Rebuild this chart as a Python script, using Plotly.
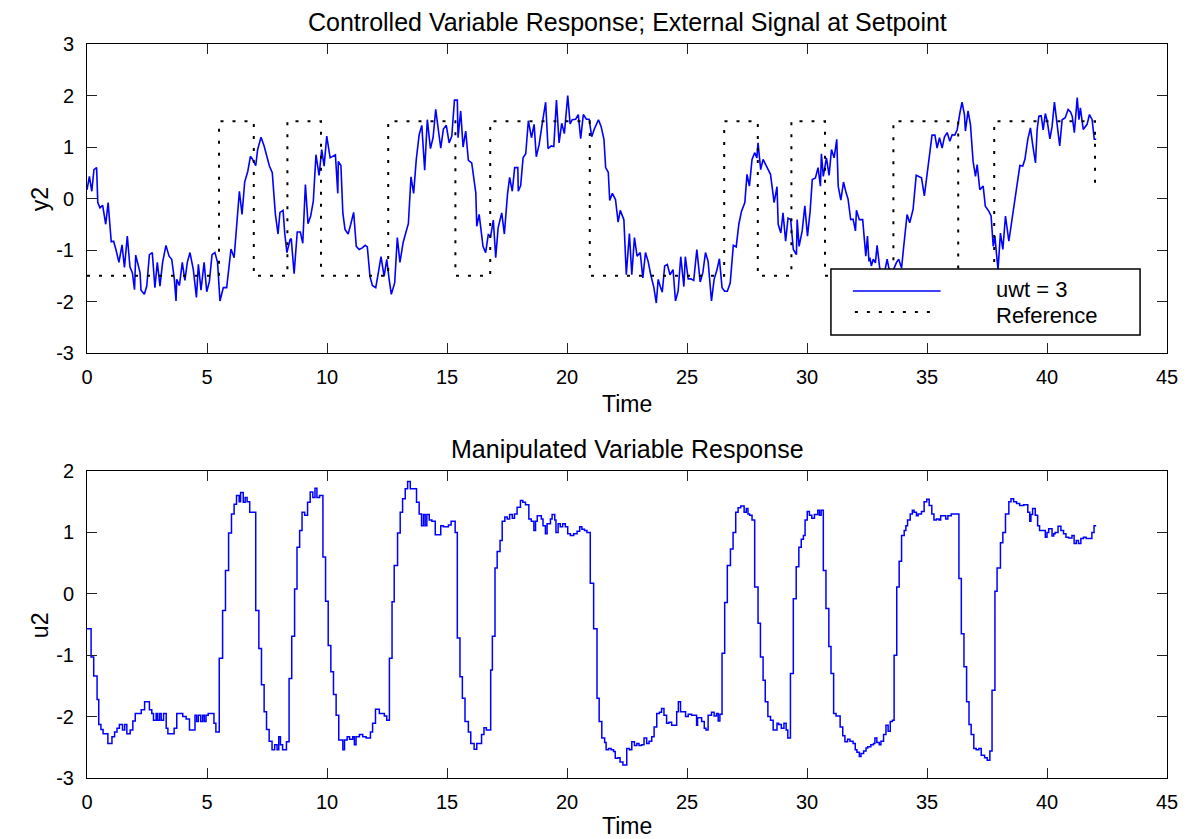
import plotly.graph_objects as go

# ---------------- data ----------------
y2_t = [0.0, 0.10, 0.20, 0.29, 0.40, 0.45, 0.54, 0.65, 0.78, 0.88, 1.01, 1.11, 1.21, 1.33, 1.46, 1.56,
        1.68, 1.79, 1.89, 1.98, 2.03, 2.21, 2.25, 2.39, 2.49, 2.60, 2.72, 2.83, 2.93, 3.04, 3.15, 3.29,
        3.42, 3.53, 3.64, 3.71, 3.74, 3.85, 3.97, 4.08, 4.18, 4.29, 4.43, 4.56, 4.64, 4.75, 4.88, 4.99,
        5.10, 5.21, 5.33, 5.44, 5.54, 5.68, 5.82, 6.00, 6.13, 6.24, 6.35, 6.46, 6.57, 6.70, 6.81, 6.90,
        7.03, 7.11, 7.25, 7.38, 7.49, 7.60, 7.72, 7.85, 7.96, 8.04, 8.17, 8.24, 8.33, 8.46, 8.51, 8.63,
        8.76, 8.89, 8.99, 9.10, 9.21, 9.32, 9.43, 9.54, 9.67, 9.78, 9.88, 9.99, 10.13, 10.35, 10.45, 10.47,
        10.58, 10.66,
        10.75, 10.88, 10.99, 11.11, 11.22, 11.34, 11.47, 11.59, 11.68, 11.79, 11.89, 12.03, 12.14, 12.25,
        12.38, 12.49, 12.59, 12.68, 12.82, 12.93, 13.04, 13.17, 13.28, 13.39, 13.50, 13.61, 13.72, 13.84,
        13.95, 14.07, 14.18, 14.31, 14.42, 14.53, 14.64, 14.74, 14.85, 14.97, 15.09, 15.20, 15.31, 15.43,
        15.46, 15.57, 15.67, 15.78, 15.89, 16.03, 16.20, 16.24, 16.34, 16.50, 16.61, 16.72, 16.82, 16.93,
        17.03, 17.13, 17.28, 17.39, 17.52, 17.61, 17.72, 17.82, 17.95, 17.97, 18.07, 18.17, 18.28, 18.39,
        18.52, 18.63, 18.72, 18.84, 18.97, 19.11, 19.21, 19.34, 19.45, 19.56, 19.67, 19.78, 19.89, 20.03,
        20.13, 20.22, 20.36, 20.47, 20.57, 20.68, 20.81, 20.92, 21.03, 21.14, 21.31, 21.42, 21.54, 21.61,
        21.72,
        21.78, 21.89, 22.02, 22.13, 22.22, 22.37, 22.47, 22.60, 22.70, 22.81, 22.92, 23.05, 23.16, 23.27,
        23.38, 23.49, 23.62, 23.72, 23.80, 23.88, 23.97, 24.07, 24.18, 24.29, 24.42, 24.52, 24.63, 24.74,
        24.87, 24.93, 25.05, 25.16, 25.28, 25.41, 25.55, 25.66, 25.77, 25.88, 26.02, 26.13, 26.24, 26.35,
        26.46, 26.57, 26.68, 26.80, 26.93, 27.05, 27.16, 27.27, 27.41, 27.50, 27.60, 27.71, 27.82, 27.91,
        27.96, 28.07, 28.17, 28.31, 28.48, 28.63, 28.75, 28.80, 28.91, 29.00, 29.11, 29.21, 29.32, 29.43,
        29.56, 29.59, 29.67, 29.80, 29.91, 30.02, 30.13, 30.22, 30.35, 30.46, 30.56, 30.60, 30.68, 30.81,
        30.92, 31.02, 31.13, 31.24, 31.30, 31.41, 31.52, 31.63, 31.71, 31.82, 31.92, 32.02, 32.06, 32.18,
        32.32, 32.45, 32.52,
        32.58, 32.62, 32.68, 32.76, 32.85, 32.92, 33.03, 33.17, 33.34, 33.41, 33.55, 33.73, 33.82, 33.94,
        34.03, 34.17, 34.28, 34.42, 34.55, 34.66, 34.77, 34.89, 35.01, 35.12, 35.21, 35.33, 35.42, 35.52,
        35.63, 35.73, 35.84, 35.95, 36.05, 36.16, 36.26, 36.37, 36.46, 36.56, 36.60, 36.71, 36.81, 36.92,
        37.02, 37.09, 37.20, 37.34, 37.43, 37.58, 37.67, 37.76, 37.83, 37.89, 37.96, 38.06, 38.16, 38.27,
        38.41, 38.55, 38.73, 38.87, 38.99, 39.08, 39.20, 39.31, 39.41, 39.52, 39.59, 39.66, 39.76, 39.84,
        39.93, 40.01, 40.12, 40.21, 40.31, 40.42, 40.53, 40.63, 40.76, 40.88, 40.98, 41.05, 41.14, 41.26,
        41.33, 41.39, 41.51, 41.67, 41.77, 41.88, 41.97, 42.05]

y2_v = [0.17, 0.43, 0.14, 0.56, 0.60, -0.08, -0.18, -0.13, -0.50, -0.08, -0.84, -0.83, -1.00, -1.24, -0.90, -1.34,
        -0.73, -1.33, -1.44, -1.77, -1.10, -1.44, -1.78, -1.86, -1.70, -1.09, -1.05, -1.73, -1.24, -1.70, -1.24, -0.91,
        -1.12, -1.18, -1.57, -1.99, -1.57, -1.69, -1.24, -1.59, -1.24, -1.05, -1.38, -1.92, -1.28, -1.78, -1.24, -1.81,
        -1.61, -1.09, -1.05, -1.24, -1.99, -1.73, -1.73, -0.98, -1.15, -0.49, 0.14, -0.31, 0.32, 0.53, 0.82, 0.76,
        0.64, 0.95, 1.19, 1.02, 0.83, 0.63, 0.50, -0.31, -0.69, -0.27, -0.23, -0.68, -1.05, -0.80, -0.78, -1.46,
        -0.65, -0.65, -0.87, 0.27, -0.49, -0.34, -0.05, 0.85, 0.45, 0.95, 0.63, 1.21, 0.79, 0.85, 0.10, 0.72,
        0.64, -0.28,
        -0.60, -0.69, -0.50, -0.27, -0.93, -0.99, -0.96, -0.91, -0.94, -1.51, -1.69, -1.73, -1.44, -1.13,
        -1.51, -1.18, -1.57, -1.86, -1.64, -0.76, -1.24, -0.86, -0.67, -0.49, 0.42, 0.10, 0.76, 1.24,
        1.42, 0.55, 1.53, 0.97, 1.18, 1.73, 1.33, 0.98, 1.35, 1.42, 1.08, 1.21, 1.91, 1.91,
        1.18, 1.70, 1.00, 1.31, 0.74, 0.69, 0.11, -0.54, -0.31, -0.93, -1.05, -0.70, -0.73, -0.42,
        -1.15, -0.57, -0.28, -0.69, 0.08, 0.41, 0.14, 0.60, 0.60, 0.14, 0.25, 0.79, 0.87, 1.51,
        1.18, 1.44, 0.81, 1.05, 1.46, 1.87, 0.97, 1.02, 1.01, 1.91, 1.08, 1.46, 1.26, 2.00,
        1.45, 1.53, 1.54, 1.63, 1.16, 1.63, 1.54, 1.54, 1.20, 1.35, 1.53, 1.40, 1.15, 0.60,
        0.51,
        -0.04, 0.10, -0.02, -0.46, -0.23, -0.41, -1.48, -0.68, -1.48, -0.76, -1.12, -1.05, -1.54, -1.05,
        -1.22, -1.48, -1.73, -2.03, -1.57, -1.70, -1.82, -1.31, -1.28, -1.48, -1.38, -1.99, -1.80, -1.13,
        -1.71, -1.13, -1.56, -1.56, -1.59, -0.99, -1.62, -1.44, -1.05, -1.22, -1.99, -1.57, -1.40, -1.17,
        -1.73, -1.80, -1.80, -1.64, -0.91, -0.94, -0.50, -0.25, -0.08, 0.47, 0.24, 0.76, 0.89, 0.79,
        1.08, 0.56, 0.76, 0.63, 0.47, -0.08, 0.23, -0.50, -0.67, -0.28, -0.83, -0.38, -0.41, -0.99,
        -1.09, -0.41, -0.93, -0.63, -0.14, -0.73, -0.25, 0.37, 0.40, 0.60, 0.24, 0.87, 0.43, 0.79,
        0.45, 0.95, 0.79, 1.15, 0.24, -0.03, 0.32, 0.11, -0.01, -0.41, -0.40, -0.63, -0.23, -0.41,
        -0.41, -1.12, -0.73,
        -1.22, -1.15, -1.31, -1.18, -1.25, -0.91, -1.35, -1.57, -1.18, -1.35, -1.44, -1.24, -1.18, -1.35,
        -0.93, -0.31, -0.47, -0.21, 0.45, 0.42, 0.40, 0.05, 0.50, 0.85, 1.23, 1.23, 0.98, 1.18,
        0.98, 1.20, 1.28, 1.11, 1.24, 1.23, 1.34, 1.66, 1.87, 1.63, 1.31, 1.70, 1.44, 0.72,
        0.43, 0.66, 0.17, 0.24, -0.15, -0.25, -0.34, -0.93, -0.73, -1.05, -1.38, -0.67, -0.99, -0.34,
        -0.83, -0.38, 0.24, 0.64, 0.63, 0.76, 1.15, 1.37, 1.02, 0.69, 1.34, 1.60, 1.61, 1.33,
        1.65, 1.50, 1.16, 1.39, 1.87, 1.47, 1.02, 1.53, 1.57, 1.73, 1.68, 1.60, 1.28, 1.96,
        1.53, 1.76, 1.34, 1.44, 1.63, 1.53, 1.15, 1.15]

ref_t = [0.0, 5.5, 6.95, 8.35, 9.75, 12.55, 15.35, 16.8, 20.95, 26.55, 27.95, 29.35, 30.75,
         33.6, 36.3, 37.8, 42.0]
ref_v = [-1.5, 1.5, -1.5, 1.5, -1.5, 1.5, -1.5, 1.5, -1.5, 1.5, -1.5, 1.5, -1.5,
         1.5, -1.5, 1.5, 0.15]

u2_t = [0.00, 0.17, 0.28, 0.42, 0.49, 0.58, 0.67, 0.87, 1.04, 1.15, 1.25, 1.35, 1.48, 1.57, 1.66, 1.80,
        1.91, 2.01, 2.26, 2.40, 2.60, 2.70, 2.77, 2.88, 2.94, 3.02, 3.09, 3.19, 3.30, 3.37, 3.63, 3.74,
        3.99, 4.13, 4.27, 4.50, 4.57, 4.64, 4.74, 4.82, 4.89, 4.96, 5.05, 5.29, 5.37, 5.51, 5.65, 5.77,
        5.90, 6.02, 6.13, 6.23, 6.34, 6.40, 6.51, 6.59, 6.67, 6.78, 7.03, 7.16, 7.27, 7.38, 7.48, 7.59,
        7.71, 7.82, 7.92, 7.99, 8.06, 8.15, 8.31, 8.42, 8.53, 8.65, 8.75, 8.86, 8.96, 9.07, 9.19, 9.30,
        9.41, 9.50, 9.58, 9.69, 9.83, 9.94, 10.05, 10.16, 10.27, 10.38, 10.49, 10.66, 10.73, 10.84,
        10.94, 11.07, 11.14, 11.21, 11.35, 11.49, 11.63, 11.81, 11.90, 12.02, 12.18, 12.39, 12.49, 12.60,
        12.71, 12.80, 12.94, 13.05, 13.15, 13.26, 13.36, 13.47, 13.73, 13.84, 13.94, 14.02, 14.09, 14.16,
        14.26, 14.37, 14.51, 14.74, 14.85, 15.06, 15.17, 15.34, 15.43, 15.54, 15.64, 15.75, 15.89, 15.99,
        16.13, 16.24, 16.44, 16.54, 16.64, 16.82, 16.89, 17.00, 17.09, 17.21, 17.30, 17.41, 17.51, 17.61,
        17.72, 17.81, 17.92, 18.06, 18.16, 18.27, 18.41, 18.51, 18.62, 18.69, 18.76, 18.93, 19.00, 19.10,
        19.17, 19.31, 19.38, 19.49, 19.54, 19.63, 19.72, 19.82, 19.93, 20.03, 20.14, 20.28, 20.42, 20.53,
        20.62, 20.73, 20.83, 20.97, 21.11, 21.25, 21.34, 21.45, 21.57, 21.63,
        21.73, 21.84, 21.94, 22.01, 22.12, 22.21, 22.33, 22.49, 22.60, 22.70, 22.81, 22.91, 23.00, 23.11,
        23.21, 23.32, 23.42, 23.53, 23.63, 23.74, 23.85, 23.94, 24.04, 24.15, 24.25, 24.36, 24.47, 24.57,
        24.64, 24.73, 24.84, 24.94, 25.05, 25.19, 25.40, 25.44, 25.51, 25.61, 25.72, 25.79, 25.88, 26.02,
        26.13, 26.23, 26.30, 26.37, 26.46, 26.57, 26.68, 26.81, 26.92, 27.03, 27.13, 27.24, 27.38, 27.47,
        27.54, 27.61, 27.71, 27.82, 27.96, 28.06, 28.17, 28.26, 28.37, 28.48, 28.59, 28.75, 28.82, 28.93,
        29.04, 29.13, 29.20, 29.31, 29.43, 29.55, 29.66, 29.76, 29.85, 29.92, 30.01, 30.10, 30.20, 30.31,
        30.45, 30.52, 30.59, 30.68, 30.79, 30.91, 31.00, 31.11, 31.21, 31.38, 31.49, 31.58, 31.69, 31.79,
        31.92, 32.01, 32.08, 32.18, 32.25, 32.36, 32.46, 32.53,
        32.59, 32.66, 32.77, 32.83, 32.91, 33.01, 33.08, 33.19, 33.29, 33.38, 33.47, 33.56, 33.63, 33.74,
        33.84, 33.94, 34.05, 34.12, 34.19, 34.30, 34.39, 34.46, 34.56, 34.63, 34.77, 34.88, 34.99, 35.09,
        35.20, 35.29, 35.39, 35.50, 35.57, 35.78, 35.87, 36.01, 36.33, 36.43, 36.54, 36.65, 36.75, 36.84,
        36.95, 37.05, 37.16, 37.26, 37.40, 37.51, 37.62, 37.71, 37.83, 37.92, 38.06, 38.16, 38.27, 38.41,
        38.50, 38.61, 38.73, 38.86, 39.03, 39.20, 39.28, 39.33, 39.40, 39.51, 39.61, 39.69, 39.93, 40.00,
        40.07, 40.21, 40.28, 40.34, 40.46, 40.58, 40.69, 40.79, 40.90, 41.04, 41.13, 41.22, 41.31, 41.41,
        41.52, 41.63, 41.76, 41.87, 41.96, 42.05]

u2_v = [-0.57, -1.03, -1.34, -1.72, -2.13, -2.21, -2.28, -2.44, -2.33, -2.25, -2.19, -2.13, -2.22, -2.13, -2.28, -2.22,
        -2.07, -1.95, -1.89, -1.76, -1.89, -1.95, -2.06, -1.95, -2.06, -1.95, -2.06, -1.95, -2.19, -2.28, -2.19, -1.95,
        -2.00, -2.04, -2.22, -1.98, -2.08, -1.98, -2.08, -1.98, -2.08, -1.98, -1.95, -2.11, -2.25, -1.05, -0.27, 0.38,
        0.99, 1.30, 1.46, 1.60, 1.50, 1.65, 1.49, 1.57, 1.50, 1.33, -0.27, -0.89, -1.48, -1.92, -2.21, -2.40,
        -2.54, -2.46, -2.54, -2.33, -2.46, -2.54, -2.41, -1.38, -0.69, 0.08, 0.76, 1.03, 1.33, 1.28, 1.49, 1.66,
        1.57, 1.72, 1.57, 1.60, 0.60, -0.12, -0.84, -1.27, -1.64, -1.98, -2.38, -2.54, -2.38, -2.33,
        -2.37, -2.33, -2.46, -2.33, -2.29, -2.33, -2.35, -2.25, -2.11, -1.88, -1.95, -1.99, -2.06, -1.05,
        -0.13, 0.46, 0.99, 1.33, 1.55, 1.71, 1.83, 1.71, 1.49, 1.30, 1.11, 1.29, 1.11, 1.29,
        1.20, 1.18, 0.96, 1.11, 1.09, 1.12, 1.18, 1.00, -0.72, -1.35, -1.70, -2.08, -2.25, -2.44,
        -2.53, -2.44, -2.29, -2.18, -2.22, -1.24, -0.69, 0.42, 0.69, 0.87, 1.18, 1.25, 1.22, 1.29,
        1.23, 1.30, 1.41, 1.52, 1.49, 1.45, 1.22, 1.18, 1.03, 1.18, 1.27, 1.22, 1.11, 0.98,
        1.14, 1.22, 1.29, 1.20, 1.00, 1.14, 1.09, 1.14, 1.09, 0.98, 0.95, 0.98, 1.02, 1.09,
        1.05, 1.03, 1.00, 0.17, -0.57, -1.70, -2.08, -2.35, -2.42, -2.54,
        -2.52, -2.54, -2.57, -2.68, -2.67, -2.74, -2.79, -2.52, -2.54, -2.41, -2.47, -2.44, -2.47, -2.46,
        -2.35, -2.44, -2.40, -2.33, -2.17, -1.95, -1.93, -1.87, -1.98, -2.11, -2.09, -2.14, -2.14, -1.92,
        -1.76, -1.92, -1.92, -2.00, -1.96, -1.98, -2.14, -2.02, -2.02, -2.08, -2.19, -2.22, -1.98, -1.93,
        -1.99, -1.95, -2.07, -1.96, -0.97, -0.14, 0.46, 0.73, 1.00, 1.33, 1.40, 1.43, 1.33, 1.39,
        1.30, 1.28, 1.20, 0.11, -0.48, -1.03, -1.41, -1.76, -2.00, -2.06, -2.22, -2.11, -2.13, -2.19,
        -2.11, -2.22, -2.35, -1.30, -0.08, 0.44, 0.76, 0.89, 0.95, 1.20, 1.34, 1.28, 1.23, 1.29,
        1.36, 1.28, 1.36, 0.38, -0.24, -0.86, -1.30, -1.95, -1.99, -2.17, -2.31, -2.41, -2.37, -2.40,
        -2.44, -2.54, -2.58, -2.65, -2.60, -2.56, -2.51, -2.49,
        -2.49, -2.46, -2.44, -2.35, -2.42, -2.46, -2.40, -2.29, -2.14, -2.24, -2.08, -2.06, -1.00, 0.11,
        0.53, 0.95, 1.03, 1.11, 1.20, 1.30, 1.36, 1.33, 1.27, 1.30, 1.34, 1.50, 1.54, 1.44,
        1.30, 1.20, 1.22, 1.20, 1.27, 1.22, 1.27, 1.30, 0.25, -0.65, -1.19, -1.76, -2.13, -2.29,
        -2.52, -2.54, -2.52, -2.63, -2.67, -2.71, -2.56, -1.57, 0.04, 0.42, 0.83, 1.00, 1.30, 1.50,
        1.55, 1.50, 1.47, 1.44, 1.45, 1.33, 1.18, 1.29, 1.39, 1.28, 1.11, 1.03, 0.92, 1.00,
        1.06, 0.94, 0.98, 1.00, 1.10, 1.03, 0.98, 0.92, 0.91, 0.95, 0.82, 0.87, 0.82, 0.90,
        0.92, 0.90, 0.90, 1.00, 1.11, 1.11]

x_ticks = [0, 5, 10, 15, 20, 25, 30, 35, 40, 45]
x_ticktext = ["0", "5", "10", "15", "20", "25", "30", "35", "40", "45"]
y2_ticks = [-3, -2, -1, 0, 1, 2, 3]
y2_ticktext = ["-3", "-2", "-1", "0", "1", "2", "3"]
u2_ticks = [-3, -2, -1, 0, 1, 2]
u2_ticktext = ["-3", "-2", "-1", "0", "1", "2"]

title_top = "Controlled Variable Response; External Signal at Setpoint"
title_bottom = "Manipulated Variable Response"
legend_labels = ["uwt = 3", "Reference"]

# ---------------- figure ----------------
FONT = "Liberation Sans, Arial, Helvetica, sans-serif"
BLUE = "#0000ff"

fig = go.Figure()
fig.add_trace(go.Scatter(x=y2_t, y=y2_v, mode="lines", line=dict(color=BLUE, width=1.6),
                         xaxis="x", yaxis="y", showlegend=False, hoverinfo="skip"))
fig.add_trace(go.Scatter(x=ref_t, y=ref_v, mode="lines", line_shape="hv",
                         line=dict(color="black", width=2, dash="3px,9px"),
                         xaxis="x", yaxis="y", showlegend=False, hoverinfo="skip"))
fig.add_trace(go.Scatter(x=u2_t, y=u2_v, mode="lines", line_shape="hv",
                         line=dict(color=BLUE, width=1.5),
                         xaxis="x2", yaxis="y2", showlegend=False, hoverinfo="skip"))

axis_common = dict(showline=True, linecolor="black", linewidth=1, mirror="ticks",
                   ticks="inside", ticklen=10, tickwidth=1, tickcolor="#222",
                   showgrid=False, zeroline=False,
                   tickfont=dict(family=FONT, size=20, color="black"))

H = 839 - 44 - 61
top_lo = 1 - 309 / H
bot_hi = 307 / H

fig.update_layout(
    width=1190, height=839,
    margin=dict(l=87, r=20, t=44, b=61),
    paper_bgcolor="white", plot_bgcolor="white",
    showlegend=False,
    xaxis=dict(domain=[0, 1], anchor="y", range=[0, 45], tickmode="array",
               tickvals=x_ticks, ticktext=x_ticktext, ticklabelstandoff=6, **axis_common),
    yaxis=dict(domain=[top_lo, 1], anchor="x", range=[-3, 3], tickmode="array",
               tickvals=y2_ticks, ticktext=y2_ticktext, ticklabelstandoff=8, **axis_common),
    xaxis2=dict(domain=[0, 1], anchor="y2", range=[0, 45], tickmode="array",
                tickvals=x_ticks, ticktext=x_ticktext, ticklabelstandoff=6, **axis_common),
    yaxis2=dict(domain=[0, bot_hi], anchor="x2", range=[-3, 2], tickmode="array",
                tickvals=u2_ticks, ticktext=u2_ticktext, ticklabelstandoff=8, **axis_common),
)

def py(Y):
    return 1 - (Y - 44) / H

def px(X):
    return (X - 87) / 1083

ann = []
ann.append(dict(text=title_top, x=0.5, y=py(22), xref="paper", yref="paper",
                showarrow=False, xanchor="center", yanchor="middle",
                font=dict(family=FONT, size=25, color="black")))
ann.append(dict(text=title_bottom, x=0.5, y=py(449), xref="paper", yref="paper",
                showarrow=False, xanchor="center", yanchor="middle",
                font=dict(family=FONT, size=25, color="black")))
for Yc in (404, 826):
    ann.append(dict(text="Time", x=0.5, y=py(Yc), xref="paper", yref="paper",
                    showarrow=False, xanchor="center", yanchor="middle",
                    font=dict(family=FONT, size=23, color="black")))
ann.append(dict(text="y2", x=px(40), y=py(199), xref="paper", yref="paper", textangle=-90,
                showarrow=False, xanchor="center", yanchor="middle",
                font=dict(family=FONT, size=23, color="black")))
ann.append(dict(text="u2", x=px(40), y=py(625), xref="paper", yref="paper", textangle=-90,
                showarrow=False, xanchor="center", yanchor="middle",
                font=dict(family=FONT, size=23, color="black")))

# legend box (top axes)
def dx(X):
    return (X - 87) / 1083

def dy(Y):
    return (353 - Y) / 309

shapes = [
    dict(type="rect", xref="x domain", yref="y domain", x0=dx(833), x1=dx(1143), y0=dy(335), y1=dy(269),
         line=dict(color="black", width=1.5), fillcolor="white", layer="above"),
    dict(type="line", xref="x domain", yref="y domain", x0=dx(855), x1=dx(943), y0=dy(291), y1=dy(291),
         line=dict(color=BLUE, width=1.3), layer="above"),
    dict(type="line", xref="x domain", yref="y domain", x0=dx(857), x1=dx(940), y0=dy(312), y1=dy(312),
         line=dict(color="black", width=2, dash="3px,9px"), layer="above"),
]
for lab, Yc in zip(legend_labels, (289, 315)):
    ann.append(dict(text=lab, x=dx(997), y=dy(Yc), xref="x domain", yref="y domain",
                    showarrow=False, xanchor="left", yanchor="middle",
                    font=dict(family=FONT, size=22, color="black")))

fig.update_layout(annotations=ann, shapes=shapes)
fig.write_html("out.html")
